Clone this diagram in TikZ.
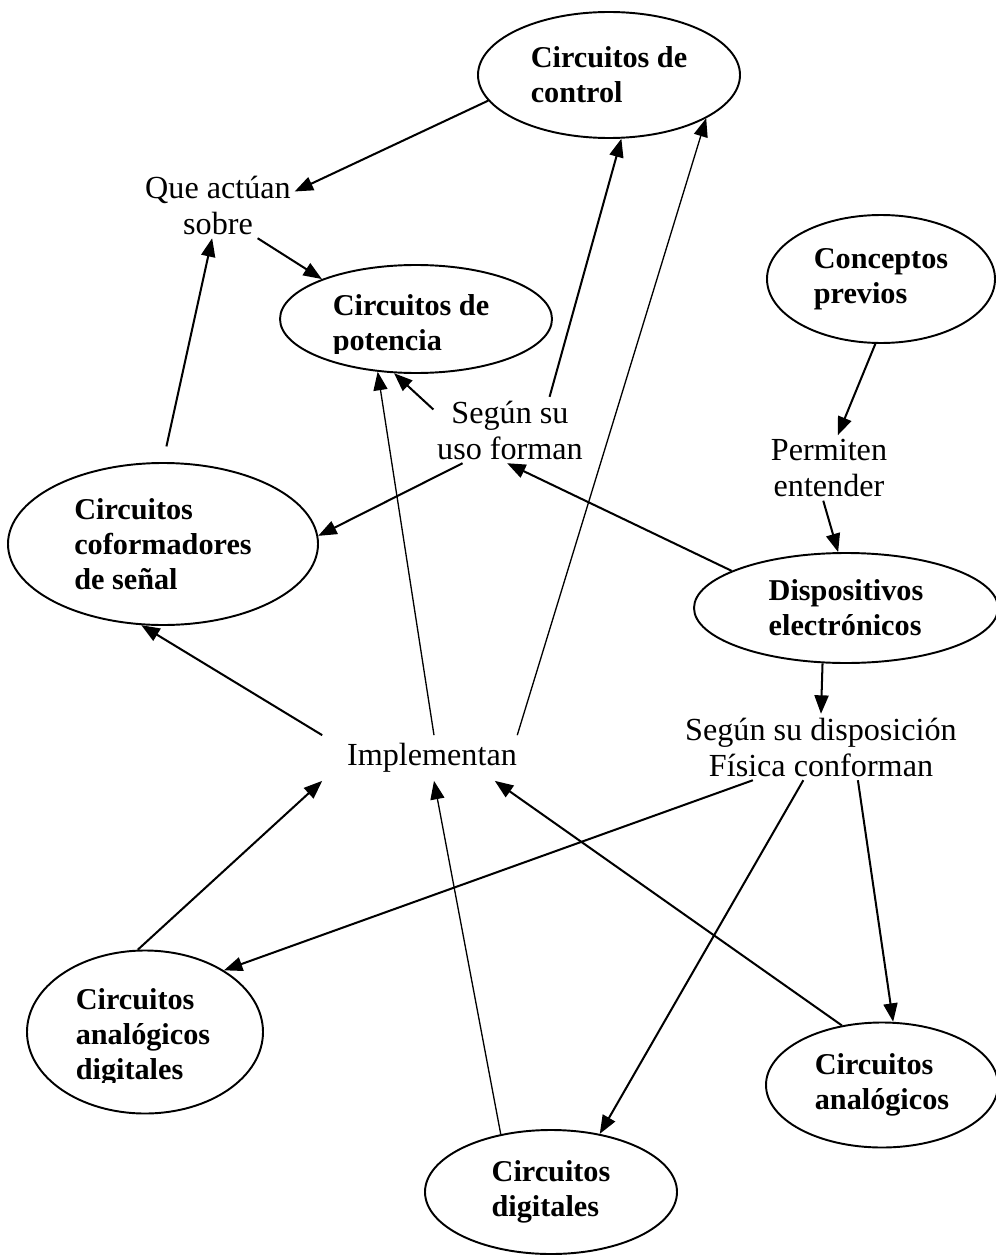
\documentclass[tikz,border=0pt]{standalone}
\usepackage{fontspec}
\setmainfont{Liberation Serif}
\usetikzlibrary{shapes.geometric, arrows.meta}

\begin{document}
\begin{tikzpicture}[x=0.2mm, y=-0.2mm]
        \tikzstyle{bubble} = [ellipse, draw, line width=1.1pt, inner sep=0pt, align=left, font=\fontsize{17.2}{20}\selectfont\bfseries]
        \tikzstyle{bubbletext} = [inner sep=0pt, align=left, font=\fontsize{17.2}{20}\selectfont\bfseries]
        \tikzstyle{phrase} = [inner sep=2pt, align=center, font=\fontsize{18.3}{20.5}\selectfont]
        \tikzstyle{arrow} = [-{Triangle[length=10.5pt, width=8pt]}, line width=1.15pt]
        \tikzstyle{thinarrow} = [arrow, line width=0.75pt]

        \useasboundingbox (0,0) rectangle (996,1256);

        % ellipses
        \node[bubble, minimum width=5.24cm, minimum height=2.52cm] (control) at (609,75) {Circuitos de\\control};
        \node[bubble, minimum width=5.44cm, minimum height=2.16cm] (power) at (416,319) {};
        \node[bubble, minimum width=4.56cm, minimum height=2.56cm] (prior) at (881,279) {Conceptos\\previos};
        \node[bubble, minimum width=6.2cm, minimum height=3.24cm] (shaping) at (163,544) {Circuitos\\coformadores\\de señal};
        \node[bubble, minimum width=6.08cm, minimum height=2.2cm] (devices) at (846,608) {Dispositivos\\electrónicos};
        \node[bubble, minimum width=4.72cm, minimum height=3.26cm] (mixed) at (145,1032) {};
        \node[bubble, minimum width=4.64cm, minimum height=2.5cm] (analog) at (882,1085) {Circuitos\\analógicos};
        \node[bubble, minimum width=5.04cm, minimum height=2.48cm] (digital) at (551,1192) {Circuitos\\digitales};

        % texts cut at the bottom
        \begin{scope}
            \clip (280,260) rectangle (552,353);
            \node[bubbletext] (powertext) at (411,326) {Circuitos de\\potencia};
        \end{scope}
        \begin{scope}
            \clip (27,960) rectangle (263,1082);
            \node[bubbletext] (mixedtext) at (143,1037) {Circuitos\\analógicos\\digitales};
        \end{scope}

        % linking words
        \node[phrase] (acts) at (218,205) {Que actúan\\sobre};
        \node[phrase] (use) at (510,430) {Según su\\uso forman};
        \node[phrase] (allow) at (829,468) {Permiten\\entender};
        \node[phrase] (layout) at (821,747) {Según su disposición\\Física conforman};
        \node[phrase, inner xsep=14pt, inner ysep=4.5pt] (impl) at (432,758) {Implementan};

        \draw[arrow] (control.192) -- (acts.10);
        \draw[arrow] (acts.-40) -- (power.157);
        \draw[arrow, shorten <=0.32cm] (shaping.north) -- (acts.-100);
        \draw[arrow] (use.165) -- (power.248);
        \draw[arrow] (use.40) -- (control.-79);
        \draw[arrow] (use.-145) -- (shaping.3);
        \draw[arrow] (devices.162) -- (use.-95);
        \draw[arrow] (prior.-95) -- (allow.75);
        \draw[arrow] (allow.-100) -- (devices.98);
        \draw[arrow] (devices.-113) -- (layout.north);
        \draw[arrow] (impl.north west) -- (shaping.-105);
        \draw[thinarrow] (impl.85) -- (power.-126);
        \draw[thinarrow] (impl.15) -- (control.-24);
        \draw[arrow] (layout.-154) -- (mixed.38);
        \draw[arrow] (mixed.95) -- (impl.south west);
        \draw[thinarrow] (digital.131) -- (impl.-85);
        \draw[arrow] (layout.-118) -- (digital.50);
        \draw[arrow] (analog.124) -- (impl.-20);
        \draw[arrow] (layout.-42) -- (analog.80);
    \end{tikzpicture}
\end{document}
